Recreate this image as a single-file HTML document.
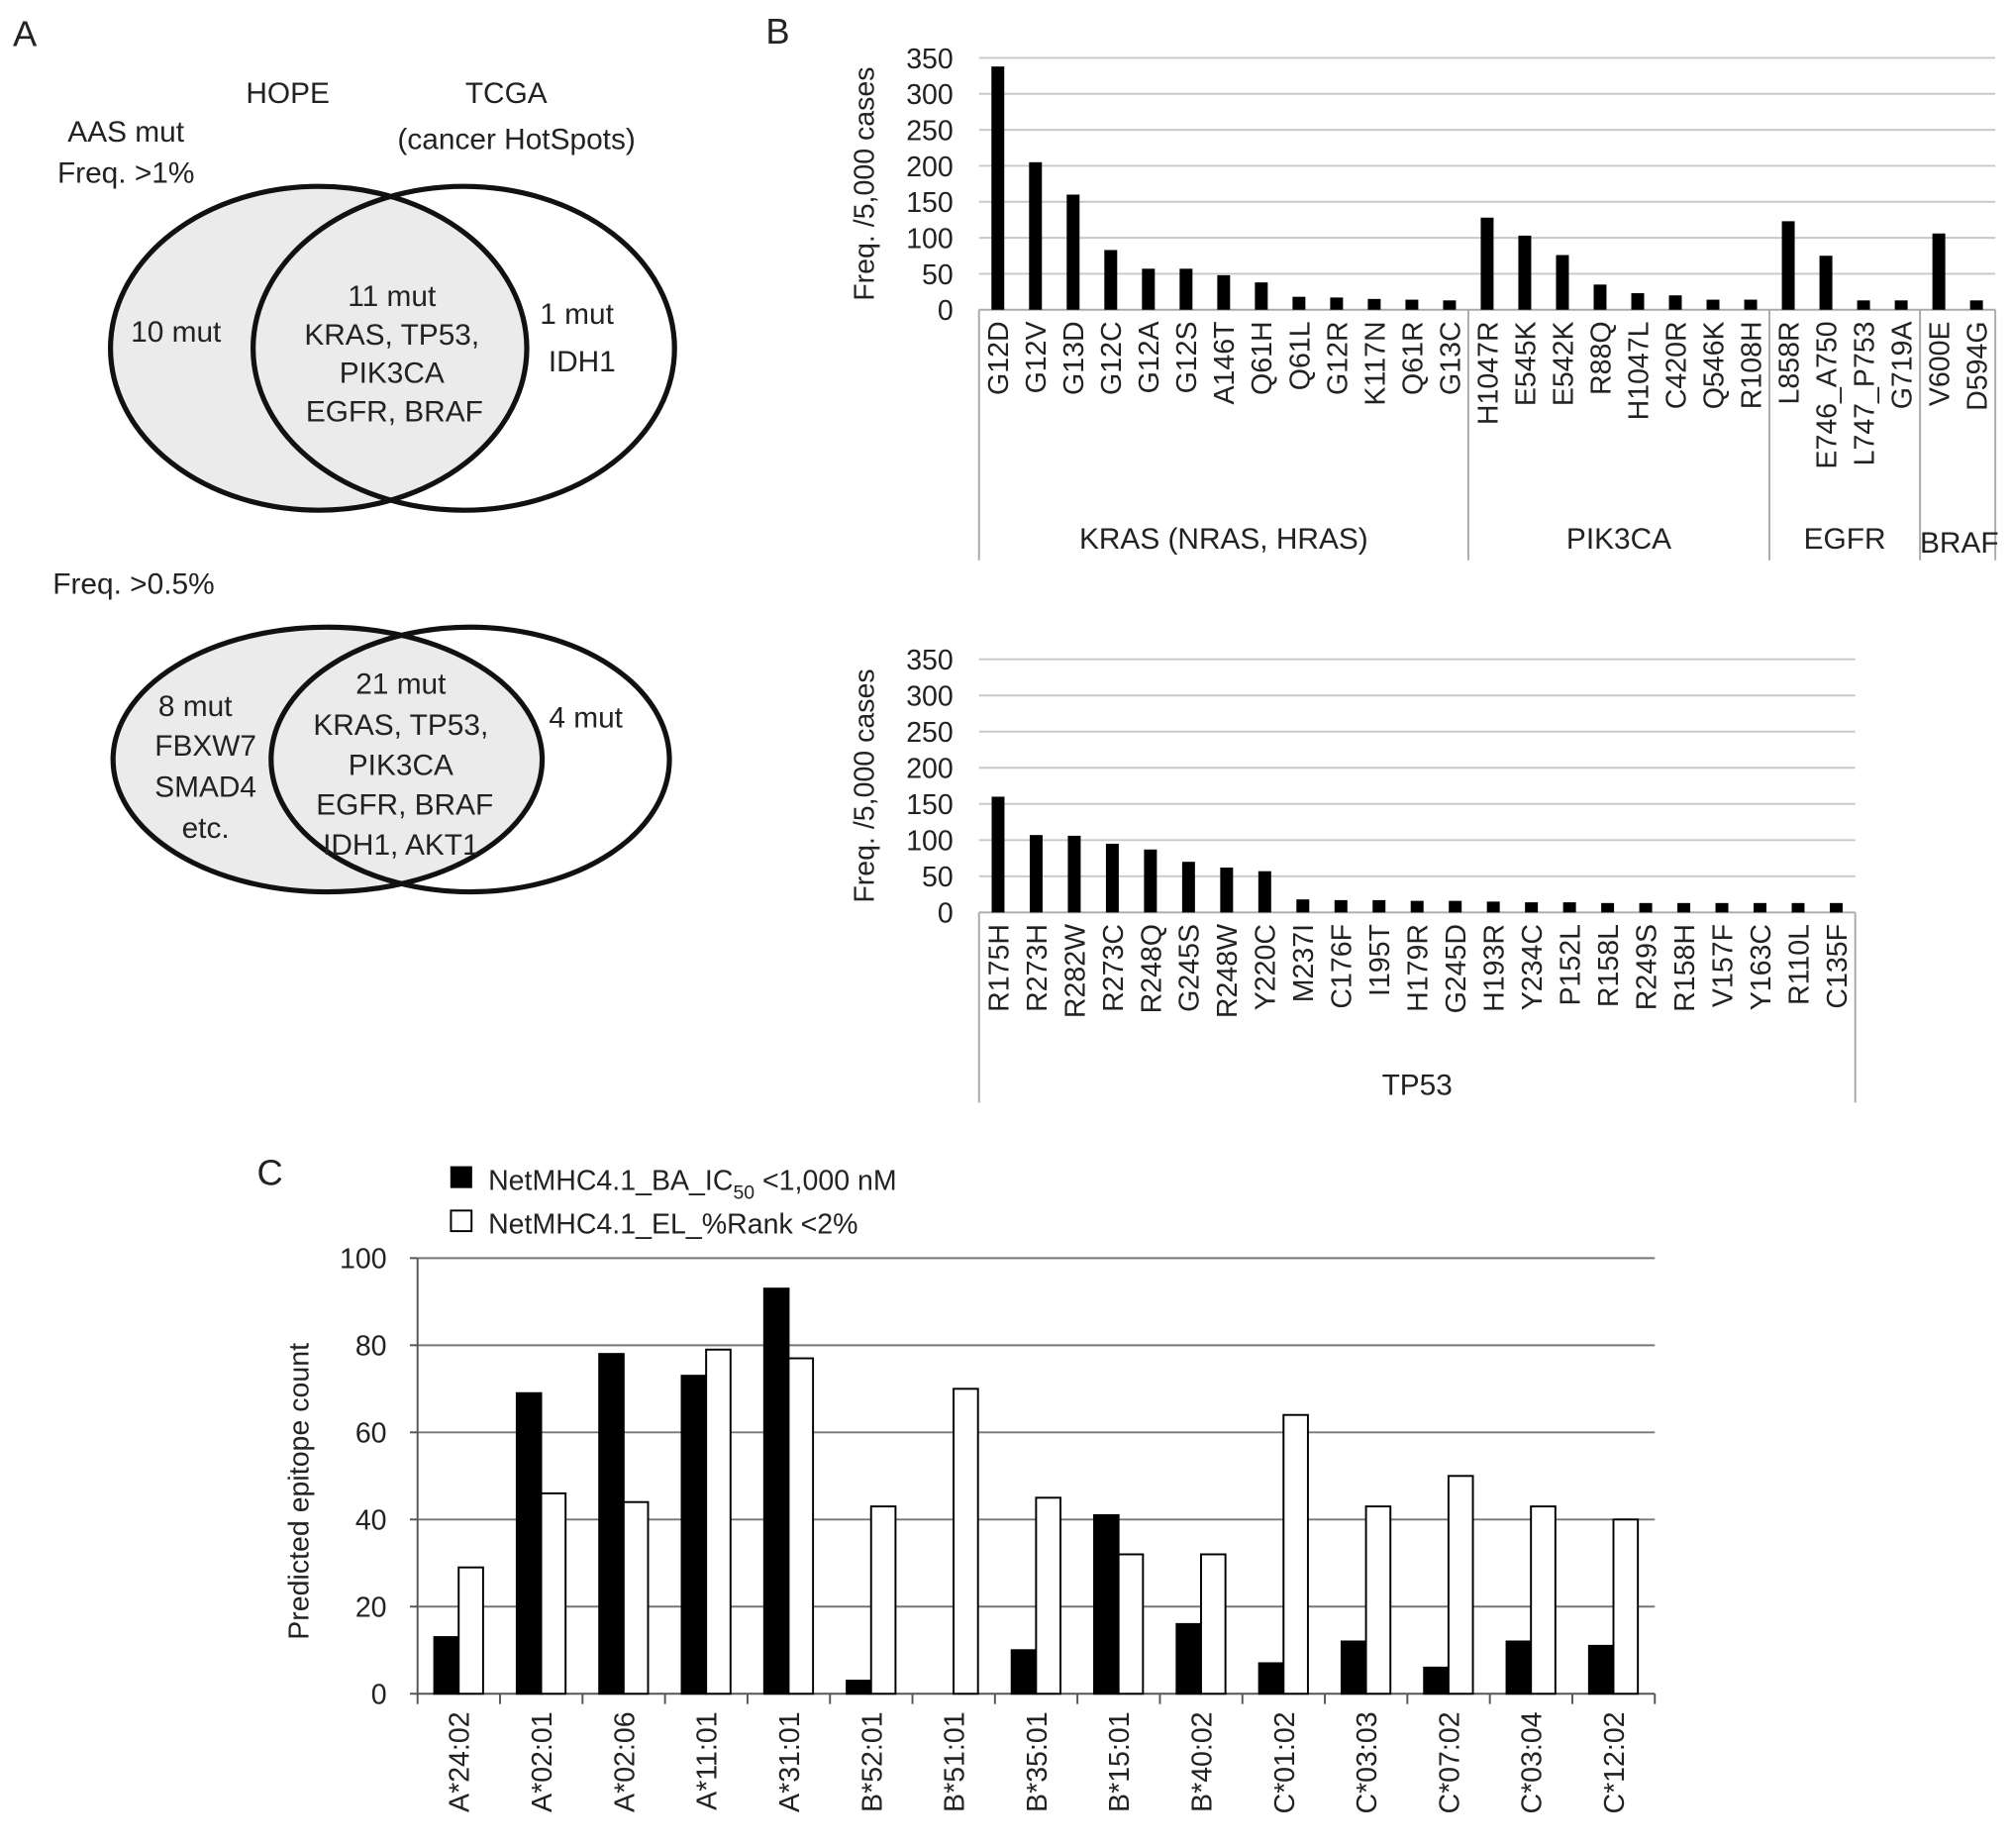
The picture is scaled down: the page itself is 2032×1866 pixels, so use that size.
<!DOCTYPE html>
<html><head><meta charset="utf-8"><style>
html,body{margin:0;padding:0;background:#fff;}
svg{display:block;font-family:"Liberation Sans",sans-serif;}
</style></head><body>
<svg id="fig" width="2032" height="1866" viewBox="0 0 1566 1438" xmlns="http://www.w3.org/2000/svg">
<rect width="1566" height="1438" fill="#fff"/>
<!-- Panel A -->
<g font-size="23" fill="#222">
<text x="10" y="36" font-size="28">A</text>
<text x="224" y="80" text-anchor="middle">HOPE</text>
<text x="394" y="80" text-anchor="middle">TCGA</text>
<text x="402" y="116" text-anchor="middle">(cancer HotSpots)</text>
<text x="98" y="110" text-anchor="middle">AAS mut</text>
<text x="98" y="142" text-anchor="middle">Freq. &gt;1%</text>
<ellipse cx="248" cy="271" rx="162" ry="126" fill="#ebebeb" stroke="#111" stroke-width="4"/>
<ellipse cx="361" cy="271" rx="164" ry="126" fill="none" stroke="#111" stroke-width="4"/>
<text x="137" y="266" text-anchor="middle">10 mut</text>
<text x="305" y="238" text-anchor="middle">11 mut</text>
<text x="305" y="268" text-anchor="middle">KRAS, TP53,</text>
<text x="305" y="298" text-anchor="middle">PIK3CA</text>
<text x="307" y="328" text-anchor="middle">EGFR, BRAF</text>
<text x="449" y="252" text-anchor="middle">1 mut</text>
<text x="453" y="289" text-anchor="middle">IDH1</text>
<text x="104" y="462" text-anchor="middle">Freq. &gt;0.5%</text>
<ellipse cx="255" cy="591" rx="167" ry="103" fill="#ebebeb" stroke="#111" stroke-width="4"/>
<ellipse cx="366" cy="591" rx="155" ry="103" fill="none" stroke="#111" stroke-width="4"/>
<text x="152" y="557" text-anchor="middle">8 mut</text>
<text x="160" y="588" text-anchor="middle">FBXW7</text>
<text x="160" y="620" text-anchor="middle">SMAD4</text>
<text x="160" y="652" text-anchor="middle">etc.</text>
<text x="312" y="540" text-anchor="middle">21 mut</text>
<text x="312" y="572" text-anchor="middle">KRAS, TP53,</text>
<text x="312" y="603" text-anchor="middle">PIK3CA</text>
<text x="315" y="634" text-anchor="middle">EGFR, BRAF</text>
<text x="312" y="665" text-anchor="middle">IDH1, AKT1</text>
<text x="456" y="566" text-anchor="middle">4 mut</text>
</g>
<text x="596" y="34" font-size="28" fill="#222">B</text>
<text x="200" y="922" font-size="28" fill="#222">C</text>
<g id="b1"></g>
<g id="b2"></g>
<g id="c"></g>
</svg>
<script>
const b1Cats=["G12D","G12V","G13D","G12C","G12A","G12S","A146T","Q61H","Q61L","G12R","K117N","Q61R","G13C","H1047R","E545K","E542K","R88Q","H1047L","C420R","Q546K","R108H","L858R","E746_A750","L747_P753","G719A","V600E","D594G"];
const b1Vals=[338,205,160,83,57,57,48,38,18,17,15,14,13,128,103,76,35,23,20,14,14,123,75,13,13,106,13];
const b1Groups=["KRAS (NRAS, HRAS)","PIK3CA","EGFR","BRAF"];
const b1GroupSizes=[13,8,4,2];
const b2Cats=["R175H","R273H","R282W","R273C","R248Q","G245S","R248W","Y220C","M237I","C176F","I195T","H179R","G245D","H193R","Y234C","P152L","R158L","R249S","R158H","V157F","Y163C","R110L","C135F"];
const b2Vals=[160,107,106,95,87,70,62,57,18,17,17,16,16,15,14,14,13,13,13,13,13,13,13];
const b2Groups=["TP53"];
const b2GroupSizes=[23];
const bTicks=[0,50,100,150,200,250,300,350];
const cCats=["A*24:02","A*02:01","A*02:06","A*11:01","A*31:01","B*52:01","B*51:01","B*35:01","B*15:01","B*40:02","C*01:02","C*03:03","C*07:02","C*03:04","C*12:02"];
const cBA=[13,69,78,73,93,3,0,10,41,16,7,12,6,12,11];
const cEL=[29,46,44,79,77,43,70,45,32,32,64,43,50,43,40];
const cTicks=[0,20,40,60,80,100];

const NS="http://www.w3.org/2000/svg";
function mk(p,tag,a,txt){const e=document.createElementNS(NS,tag);for(const k in a)e.setAttribute(k,a[k]);if(txt!==undefined)e.textContent=txt;p.appendChild(e);return e;}

function barChart(gid,cats,vals,groups,sizes,x0,x1,y0,y350,labelY,groupY,sepBottom,nameP){
  const g=document.getElementById(gid);
  const y=v=>y0-(v/350)*(y0-y350);
  const bw=(x1-x0)/cats.length;
  bTicks.forEach(t=>{
    if(t>0){const l=mk(g,'line',{x1:x0,x2:x1,y1:y(t),y2:y(t),stroke:'#c8c8c8','stroke-width':1.5});
    
    }
    const tx=mk(g,'text',{x:x0-20,y:y(t)+8,'text-anchor':'end','font-size':22,fill:'#222'},t);
    
    
  });
  const ax=mk(g,'line',{x1:x0,x2:x1,y1:y0,y2:y0,stroke:'#aaa','stroke-width':1.5});
  
  
  const yt=mk(g,'text',{transform:`translate(680,${(y0+y350)/2}) rotate(-90)`,'text-anchor':'middle','font-size':22,fill:'#222'},'Freq. /5,000 cases');
  
  
  cats.forEach((c,i)=>{
    const cx=x0+bw*(i+0.5);
    const r=mk(g,'rect',{x:cx-5,y:y(vals[i]),width:10,height:y0-y(vals[i]),fill:'#000'});
    
    
    const t=mk(g,'text',{transform:`translate(${cx+8},${y0+9}) rotate(-90)`,'text-anchor':'end','font-size':22,fill:'#222'},c);
    
    
  });
  let start=0;
  const sep=xx=>{const l=mk(g,'line',{x1:xx,x2:xx,y1:y0,y2:sepBottom,stroke:'#aaa','stroke-width':1.5});
    
    };
  sep(x0);
  groups.forEach((gn,k)=>{
    const a=x0+start*bw,b=x0+(start+sizes[k])*bw;
    sep(b);
    let tx=(a+b)/2; if(gn==="BRAF") tx=1525;
    const t=mk(g,'text',{x:tx,y:groupY+(gn==="BRAF"?3:0),'text-anchor':'middle','font-size':23,fill:'#222'},gn);
    
    
    start+=sizes[k];
  });
}
barChart('b1',b1Cats,b1Vals,b1Groups,b1GroupSizes,762,1553,241,45,250,427,436,'hotspot');
barChart('b2',b2Cats,b2Vals,b2Groups,b2GroupSizes,762,1444,710,513,720,852,858,'tp53');

(function(){
  const g=document.getElementById('c');
  const x0=325,x1=1288,y0=1318,yTop=979;
  const y=v=>y0-(v/100)*(y0-yTop);
  const gw=(x1-x0)/cCats.length;
  cTicks.forEach(t=>{
    if(t>0){const l=mk(g,'line',{x1:x0,x2:x1,y1:y(t),y2:y(t),stroke:'#777','stroke-width':1.5});
    
    }
    const tk=mk(g,'line',{x1:x0-6,x2:x0,y1:y(t),y2:y(t),stroke:'#555','stroke-width':1.5});
    
    
    const tx=mk(g,'text',{x:x0-24,y:y(t)+8,'text-anchor':'end','font-size':22,fill:'#222'},t);
    
    
  });
  const ya=mk(g,'line',{x1:x0,x2:x0,y1:yTop,y2:y0,stroke:'#555','stroke-width':1.5});
  
  
  const xa=mk(g,'line',{x1:x0,x2:x1,y1:y0,y2:y0,stroke:'#555','stroke-width':1.5});
  
  
  const yt=mk(g,'text',{transform:`translate(240,${(y0+yTop)/2+12}) rotate(-90)`,'text-anchor':'middle','font-size':22,fill:'#222'},'Predicted epitope count');
  
  
  for(let i=0;i<=cCats.length;i++){
    const l=mk(g,'line',{x1:x0+gw*i,x2:x0+gw*i,y1:y0,y2:y0+8,stroke:'#555','stroke-width':1.5});
    
    
  }
  cCats.forEach((c,i)=>{
    const gx=x0+gw*i;
    const r1=mk(g,'rect',{x:gx+13,y:y(cBA[i]),width:19,height:y0-y(cBA[i]),fill:'#000',stroke:'#000','stroke-width':1.5});
    
    
    if(cEL[i]>0){
    const r2=mk(g,'rect',{x:gx+32,y:y(cEL[i]),width:19,height:y0-y(cEL[i]),fill:'#fff',stroke:'#000','stroke-width':1.5});
    
    }
    const t=mk(g,'text',{transform:`translate(${gx+gw/2+8},${y0+14}) rotate(-90)`,'text-anchor':'end','font-size':22,fill:'#222'},c);
    
    
  });
  const lg=mk(g,'g',{});
  
  
  const s1=mk(lg,'rect',{x:351,y:908,width:16,height:16,fill:'#000',stroke:'#000'});
  
  
  const t1=mk(lg,'text',{x:380,y:926,'font-size':22,fill:'#222'});
  
  
  t1.innerHTML='NetMHC4.1_BA_IC<tspan font-size="15" dy="7">50</tspan><tspan dy="-7"> &lt;1,000 nM</tspan>';
  const s2=mk(lg,'rect',{x:351,y:942,width:16,height:16,fill:'#fff',stroke:'#000','stroke-width':1.5});
  
  
  const t2=mk(lg,'text',{x:380,y:960,'font-size':22,fill:'#222'},'NetMHC4.1_EL_%Rank <2%');
  
  
})();
</script>
</body></html>
